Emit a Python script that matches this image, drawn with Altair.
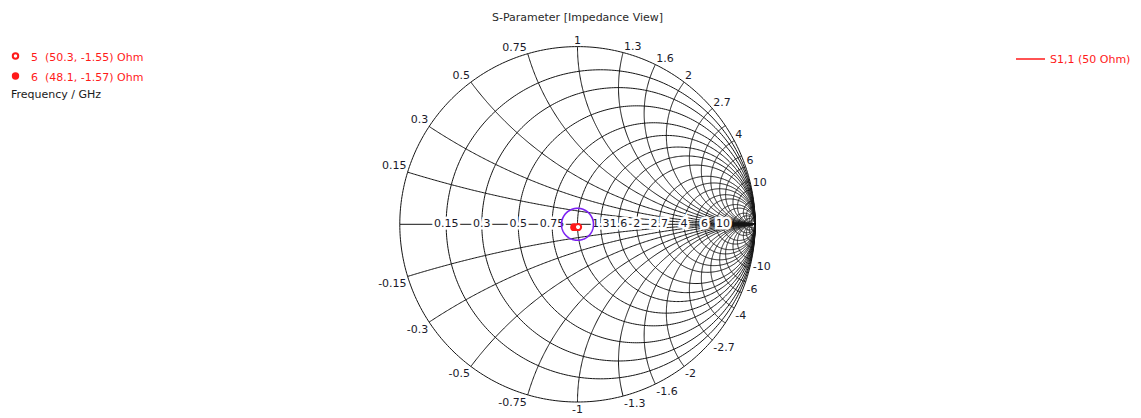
import numpy as np
import pandas as pd
import altair as alt

# ---------------------------------------------------------------- data
TITLE = "S-Parameter [Impedance View]"
Z0 = 50.0

# normalised resistance circles / reactance arcs of the Smith grid
GRID_R = [0.15, 0.3, 0.5, 0.75, 1, 1.3, 1.6, 2, 2.7, 3.3, 4, 5, 6, 8, 10, 15, 20, 30, 50]
GRID_X = [0.15, 0.3, 0.5, 0.75, 1, 1.3, 1.6, 2, 2.7, 3.3, 4, 5, 6, 8, 10, 15, 20, 30, 50]

# labelled grid values
AXIS_LABELS = ["0.15", "0.3", "0.5", "0.75", "1.3", "1.6", "2", "2.7", "4", "6", "10"]
RIM_LABELS = ["0.15", "0.3", "0.5", "0.75", "1", "1.3", "1.6", "2", "2.7", "4", "6", "10"]

# |S11| reference circle
REF_GAMMA = 0.09

# S1,1 trace near the match point (Ohm)
TRACE_RE = [46.6, 47.3, 48.1, 49.2, 50.3, 51.2, 52.0]
TRACE_IM = [-1.3, -1.47, -1.57, -1.61, -1.55, -1.43, -1.25]

# markers (Ohm)
MARKER_ID = ["5", "6"]
MARKER_RE = [50.3, 48.1]
MARKER_IM = [-1.55, -1.57]

NBSP = "\u00a0"
LEGEND_LINES = ["5" + NBSP * 2 + "(50.3, -1.55) Ohm", "6" + NBSP * 2 + "(48.1, -1.57) Ohm"]
LEGEND_NOTE = "Frequency / GHz"
TRACE_NAME = "S1,1 (50 Ohm)"

# ---------------------------------------------------------------- layout
W, H = 1141, 418
CX, CY, RAD = 577.5, 224.3, 177.7          # chart centre / radius in px
FONT = "DejaVu Sans"
GRID_COLOR = "#151515"
LABEL_COLOR = "#1a1a2a"
RED = "#ff1a1a"

sx = alt.Scale(domain=[(0 - CX) / RAD, (W - CX) / RAD], nice=False, zero=False)
sy = alt.Scale(domain=[(CY - H) / RAD, CY / RAD], nice=False, zero=False)


def gamma(z):
    return (z - 1) / (z + 1)


# ---------------------------------------------------------------- grid curves
rows = []
cid = 0
t = np.linspace(0, 2 * np.pi, 361)
# outer rim (r = 0) and resistance circles
for r in [0.0] + GRID_R:
    c, rr = r / (1 + r), 1 / (1 + r)
    for k, a in enumerate(t):
        rows.append((cid, k, c + rr * np.cos(a), rr * np.sin(a)))
    cid += 1
# reactance arcs (inside the rim)
for x in GRID_X:
    p0 = gamma(1j * x)
    a0 = np.arctan2(p0.imag - 1 / x, p0.real - 1) % (2 * np.pi)
    a1 = 1.5 * np.pi
    for sign in (1, -1):
        for k, a in enumerate(np.linspace(a0, a1, 240)):
            rows.append((cid, k, 1 + np.cos(a) / x, sign * (1 / x + np.sin(a) / x)))
        cid += 1
# real axis
g_lo, g_hi = gamma(0.0), 1.0
rows.append((cid, 0, g_lo, 0.0))
rows.append((cid, 1, g_hi, 0.0))
grid = pd.DataFrame(rows, columns=["curve", "k", "gx", "gy"])

grid_layer = alt.Chart(grid).mark_line(color=GRID_COLOR, strokeWidth=1).encode(
    x=alt.X("gx:Q", scale=sx, axis=None),
    y=alt.Y("gy:Q", scale=sy, axis=None),
    detail="curve:N",
    order="k:Q",
)

# reference circle
ref = pd.DataFrame({"k": np.arange(181), "a": np.linspace(0, 2 * np.pi, 181)})
ref["gx"] = REF_GAMMA * np.cos(ref["a"])
ref["gy"] = REF_GAMMA * np.sin(ref["a"])
ref_layer = alt.Chart(ref).mark_line(color="#7b1ff2", strokeWidth=1.6).encode(
    x=alt.X("gx:Q", scale=sx), y=alt.Y("gy:Q", scale=sy), order="k:Q"
)

# ---------------------------------------------------------------- labels
axis_df = pd.DataFrame({"lab": AXIS_LABELS})
axis_df["gx"] = [gamma(float(v)) for v in AXIS_LABELS]
axis_df["gy"] = 0.0
axis_enc = dict(x=alt.X("gx:Q", scale=sx), y=alt.Y("gy:Q", scale=sy), text="lab:N")
axis_halo = alt.Chart(axis_df).mark_text(
    font=FONT, fontSize=11, fill="white", stroke="white", strokeWidth=5,
    baseline="middle", align="center",
).encode(**axis_enc)
axis_text = alt.Chart(axis_df).mark_text(
    font=FONT, fontSize=11, color=LABEL_COLOR, baseline="middle", align="center",
).encode(**axis_enc)

rim_rows = []
for lab in RIM_LABELS:
    v = float(lab)
    th = np.pi - 2 * np.arctan(v)
    side = "l" if v < 1 else ("c" if v == 1 else "r")
    rim_rows.append((lab, np.cos(th), np.sin(th), side, "u"))
    rim_rows.append(("-" + lab, np.cos(th), -np.sin(th), side, "d"))
rim_df = pd.DataFrame(rim_rows, columns=["lab", "gx", "gy", "side", "half"])

rim_layers = []
for side, align, dx in (("l", "right", -1), ("c", "center", 0), ("r", "left", 1)):
    for half, baseline, dy in (("u", "alphabetic", -3), ("d", "top", 2)):
        rim_layers.append(
            alt.Chart(rim_df).transform_filter(
                (alt.datum.side == side) & (alt.datum.half == half)
            ).mark_text(
                font=FONT, fontSize=11, color=LABEL_COLOR,
                align=align, baseline=baseline, dx=dx, dy=dy,
            ).encode(x=alt.X("gx:Q", scale=sx), y=alt.Y("gy:Q", scale=sy), text="lab:N")
        )

# ---------------------------------------------------------------- trace + markers
tr = pd.DataFrame({"k": range(len(TRACE_RE))})
zt = (np.array(TRACE_RE) + 1j * np.array(TRACE_IM)) / Z0
tr["gx"], tr["gy"] = gamma(zt).real, gamma(zt).imag
trace_layer = alt.Chart(tr).mark_line(color=RED, strokeWidth=2).encode(
    x=alt.X("gx:Q", scale=sx), y=alt.Y("gy:Q", scale=sy), order="k:Q"
)

mk = pd.DataFrame({"id": MARKER_ID})
zm = (np.array(MARKER_RE) + 1j * np.array(MARKER_IM)) / Z0
mk["gx"], mk["gy"] = gamma(zm).real, gamma(zm).imag
mk_filled = alt.Chart(mk).transform_filter(alt.datum.id == "6").mark_point(
    shape="circle", filled=True, color=RED, size=60, opacity=1
).encode(x=alt.X("gx:Q", scale=sx), y=alt.Y("gy:Q", scale=sy))
mk_open = alt.Chart(mk).transform_filter(alt.datum.id == "5").mark_point(
    shape="circle", filled=True, fill="white", stroke=RED, strokeWidth=2, size=38, opacity=1
).encode(x=alt.X("gx:Q", scale=sx), y=alt.Y("gy:Q", scale=sy))

# ---------------------------------------------------------------- title and legends
one = pd.DataFrame({"t": [0]})


def txt(s, x, y, color, align="left", size=11):
    return alt.Chart(pd.DataFrame({"t": [s]})).mark_text(
        font=FONT, fontSize=size, color=color, align=align, baseline="alphabetic"
    ).encode(x=alt.value(x), y=alt.value(y), text="t:N")


title_layer = txt(TITLE, 577.5, 20.5, "#2a2a2a", align="center")
leg1 = txt(LEGEND_LINES[0], 31, 60.5, RED)
leg2 = txt(LEGEND_LINES[1], 31, 80.5, RED)
leg3 = txt(LEGEND_NOTE, 11, 97.5, "#1a1a1a")
leg_open = alt.Chart(one).mark_point(
    shape="circle", filled=True, fill="white", stroke=RED, strokeWidth=2, size=30, opacity=1
).encode(x=alt.value(15.5), y=alt.value(56))
leg_fill = alt.Chart(one).mark_point(
    shape="circle", filled=True, color=RED, size=55, opacity=1
).encode(x=alt.value(15.5), y=alt.value(76))
leg_line = alt.Chart(one).mark_rule(color=RED, strokeWidth=1.5).encode(
    x=alt.value(1016), x2=alt.value(1045), y=alt.value(59)
)
leg_trace = txt(TRACE_NAME, 1050, 63, RED)

chart = alt.layer(
    grid_layer, axis_halo, axis_text, *rim_layers, ref_layer, trace_layer, mk_filled, mk_open,
    title_layer, leg1, leg2, leg3, leg_open, leg_fill, leg_line, leg_trace,
).properties(
    width=W, height=H, autosize=alt.AutoSizeParams(type="none"), padding=0, background="white"
).configure_view(stroke=None)

chart.save("out.html", embed_options={"renderer": "svg", "actions": False})
